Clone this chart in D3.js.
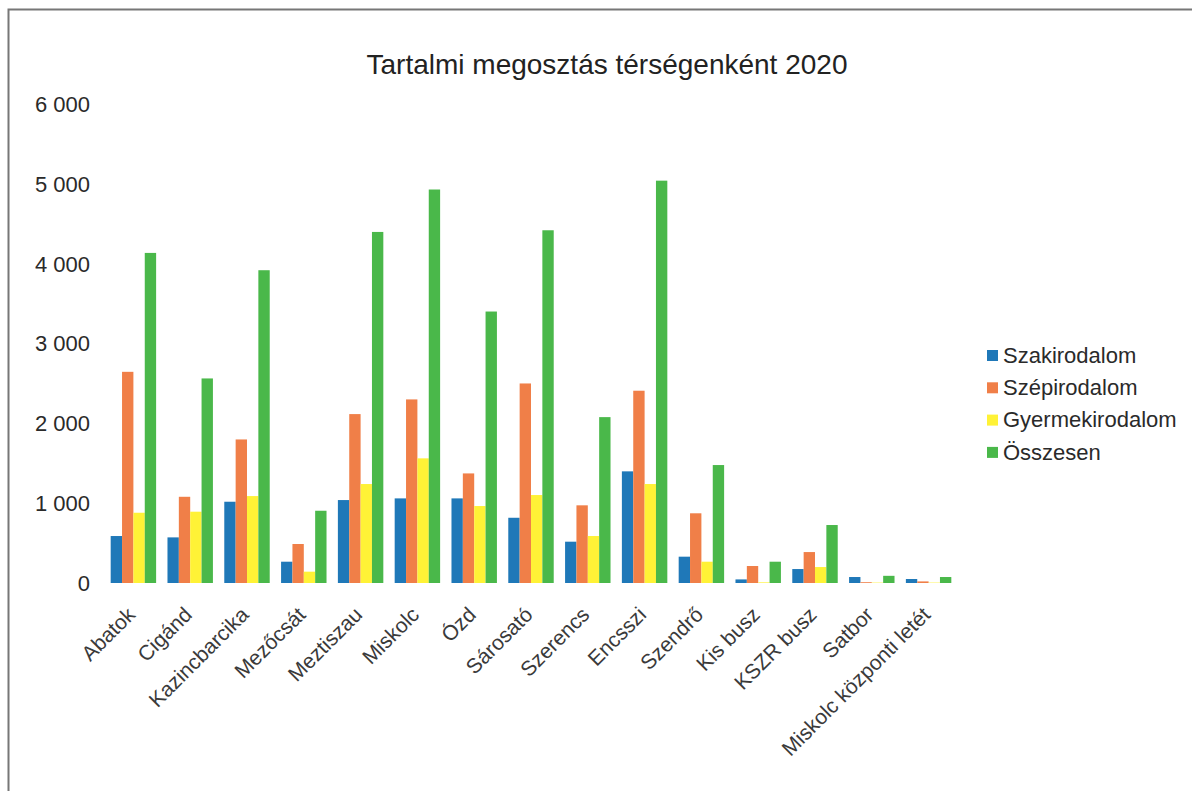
<!DOCTYPE html>
<html><head><meta charset="utf-8">
<script src="https://cdn.jsdelivr.net/npm/d3@7"></script>
<style>
html,body{margin:0;padding:0;background:#fff;}
text{font-family:"Liberation Sans",Arial,sans-serif;}
</style></head>
<body>
<svg id="c" width="1192" height="791"></svg>
<script>
const categories = ["Abatok","Cigánd","Kazincbarcika","Mezőcsát","Meztiszau","Miskolc","Ózd","Sárosató","Szerencs","Encsszi","Szendrő","Kis busz","KSZR busz","Satbor","Miskolc központi letét"];
const seriesNames = ["Szakirodalom","Szépirodalom","Gyermekirodalom","Összesen"];
const szakirodalom    = [589, 572, 1019, 267, 1040, 1061, 1061, 818, 518, 1400, 330, 45, 175, 75, 50];
const szepirodalom    = [2648, 1081, 1800, 489, 2118, 2302, 1374, 2502, 974, 2411, 874, 213, 388, 10, 20];
const gyermekirodalom = [881, 894, 1090, 142, 1241, 1563, 965, 1103, 589, 1241, 267, 8, 200, 5, 5];
const osszesen        = [4139, 2565, 3922, 906, 4402, 4934, 3404, 4423, 2080, 5045, 1479, 267, 727, 90, 75];
const yTicks = [0, 1000, 2000, 3000, 4000, 5000, 6000];
const colors = ["#1f78b8", "#f07f48", "#fff236", "#4ab84a"];
const title = "Tartalmi megosztás térségenként 2020";

const svg = d3.select("#c");
// frame
svg.append("rect").attr("x",8.5).attr("y",9.5).attr("width",1200).attr("height",800)
  .attr("fill","none").attr("stroke","#777").attr("stroke-width",2);

const pLeft = 105, pRight = 957, pTop = 104.5, pBottom = 583;
const x0 = d3.scaleBand().domain(categories).range([pLeft, pRight]).paddingInner(0.2).paddingOuter(0.1);
const x1 = d3.scaleBand().domain(seriesNames).range([0, x0.bandwidth()]).padding(0);
const y = d3.scaleLinear().domain([0, 6000]).range([pBottom, pTop]);

const data = [szakirodalom, szepirodalom, gyermekirodalom, osszesen];

const g = svg.append("g");
categories.forEach((c, i) => {
  seriesNames.forEach((s, j) => {
    const v = data[j][i];
    g.append("rect")
      .attr("x", x0(c) + x1(s))
      .attr("y", y(v))
      .attr("width", x1.bandwidth())
      .attr("height", pBottom - y(v))
      .attr("fill", colors[j]);
  });
});

// y axis
const fmt = v => d3.format(",")(v).replace(/,/g, " ");
const yAxis = d3.axisLeft(y).tickValues(yTicks).tickFormat(fmt).tickSize(0).tickPadding(0);
const ya = svg.append("g").attr("transform", `translate(90,0)`).call(yAxis);
ya.select(".domain").remove();
ya.selectAll("text").attr("font-size", 22).attr("fill", "#2a2a2a").attr("font-family", '"Liberation Sans",Arial,sans-serif');

// x axis
const xAxis = d3.axisBottom(x0).tickSize(0).tickPadding(0);
const xa = svg.append("g").attr("transform", `translate(0,${pBottom})`).call(xAxis);
xa.select(".domain").remove();
xa.selectAll("text")
  .attr("font-size", 21).attr("fill", "#3a3a3a")
  .attr("font-family", '"Liberation Sans",Arial,sans-serif')
  .attr("text-anchor", "end")
  .attr("dy", null).attr("y", 0)
  .attr("transform", "translate(3,33) rotate(-45)");

// title
svg.append("text").attr("x", 607).attr("y", 74).attr("text-anchor", "middle")
  .attr("font-size", 28).attr("fill", "#222").text(title);

// legend
const lg = svg.append("g").attr("transform", "translate(987,355)");
seriesNames.forEach((s, j) => {
  const row = lg.append("g").attr("transform", `translate(0,${j * 32.3})`);
  row.append("rect").attr("x", 0).attr("y", -5).attr("width", 11).attr("height", 11).attr("fill", colors[j]);
  row.append("text").attr("x", 16).attr("y", 0).attr("dy", "0.35em").attr("font-size", 22).attr("fill", "#2a2a2a").text(s);
});
</script>
</body></html>
